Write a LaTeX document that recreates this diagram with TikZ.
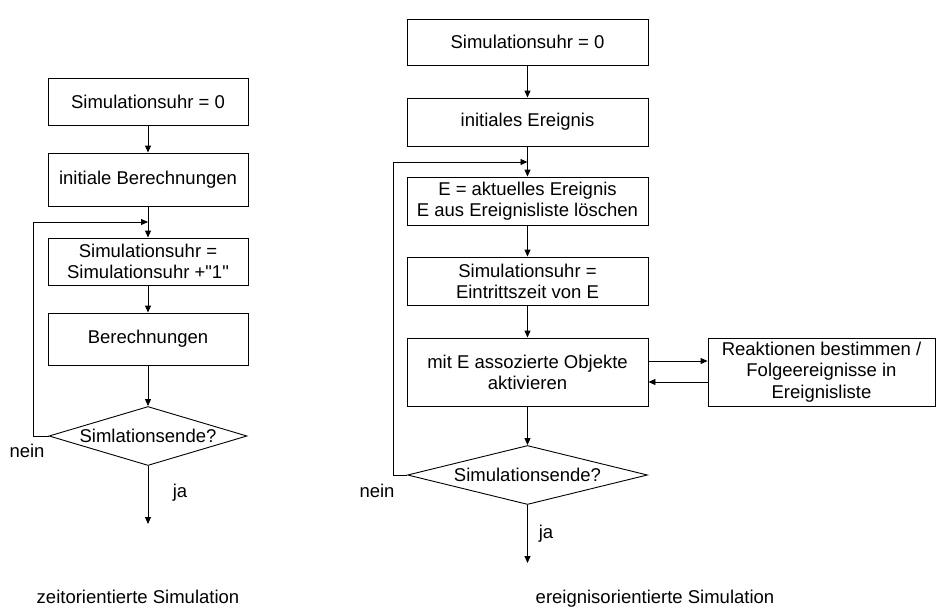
\documentclass[tikz,border=0pt]{standalone}
\usepackage{fontspec}
\setmainfont{Liberation Sans}
\usetikzlibrary{arrows.meta,shapes.geometric}
\begin{document}
\begin{tikzpicture}[x=1pt,y=-1pt,
  every node/.style={font=\fontsize{18.5}{21}\selectfont, inner sep=0pt},
  box/.style={draw, line width=0.9pt, align=center, minimum width=#1},
  box/.default=200pt,
  dia/.style={draw, line width=0.9pt, shape=diamond, aspect=1},
  arr/.style={line width=0.9pt, -{Triangle[length=7pt,width=6pt]}},
  plain/.style={line width=0.9pt}]
\useasboundingbox (0,0) rectangle (937,608);

% ---- time-driven simulation ----
\node[box, minimum height=47pt] (b1) at (148,101.5) {Simulationsuhr = 0};
\node[box, minimum height=53pt] (b2) at (148,179.5) {initiale Berechnungen};
\node[box, minimum height=47pt] (b3) at (148,261.5) {Simulationsuhr =\\Simulationsuhr +\textquotedbl 1\textquotedbl};
\node[box, minimum height=52pt] (b4) at (148,339) {Berechnungen};
\node[dia, minimum width=198pt, minimum height=59pt] (d1) at (148,436) {\makebox[0pt]{Simlationsende?}};
\coordinate (j1) at (148,222);
\coordinate (k1) at (33,436);
\coordinate (e1) at (148,524);

\draw[arr] (b1) -- (b2);
\draw[arr] (b2) -- (b3);
\draw[arr] (b3) -- (b4);
\draw[arr] (b4) -- (d1);
\draw[arr] (d1.west) -- (k1) |- (j1);
\draw[arr] (d1.south) -- (e1);
\node[anchor=base] (n1) at (27,457) {nein};
\node[anchor=base] (y1) at (180,497) {ja};
\node[anchor=base] (t1) at (138,603) {zeitorientierte Simulation};

% ---- event-driven simulation ----
\node[box=241pt, minimum height=46pt] (r1) at (527.5,42) {Simulationsuhr = 0};
\node[box=241pt, minimum height=48pt] (r2) at (527.5,122) {initiales Ereignis};
\node[box=241pt, minimum height=48pt] (r3) at (527.5,201) {E = aktuelles Ereignis\\E aus Ereignisliste löschen};
\node[box=241pt, minimum height=48pt] (r4) at (527.5,281) {Simulationsuhr =\\Eintrittszeit von E};
\node[box=241pt, minimum height=68pt] (r5) at (527.5,372) {mit E assozierte Objekte\\aktivieren};
\node[box=227pt, minimum height=68pt, font=\fontsize{18.5}{21.5}\selectfont] (rx) at (821.5,372) {Reaktionen bestimmen /\\Folgeereignisse in\\Ereignisliste};
\node[dia, minimum width=240pt, minimum height=59pt] (d2) at (527.5,475) {\makebox[0pt]{Simulationsende?}};
\coordinate (j2) at (527.5,162);
\coordinate (k2) at (393,475);
\coordinate (e2) at (527.5,563);

\draw[arr] (r1) -- (r2);
\draw[arr] (r2) -- (r3);
\draw[arr] (r3) -- (r4);
\draw[arr] (r4) -- (r5);
\draw[arr] (r5) -- (d2);
\draw[arr] ([yshift=11pt]r5.east) -- ([yshift=11pt]rx.west);
\draw[arr] ([yshift=-10pt]rx.west) -- ([yshift=-10pt]r5.east);
\draw[arr] (d2.west) -- (k2) |- (j2);
\draw[arr] (d2.south) -- (e2);
\node[anchor=base] (n2) at (377,497) {nein};
\node[anchor=base] (y2) at (546,538) {ja};
\node[anchor=base] (t2) at (655,603) {ereignisorientierte Simulation};
\end{tikzpicture}
\end{document}
